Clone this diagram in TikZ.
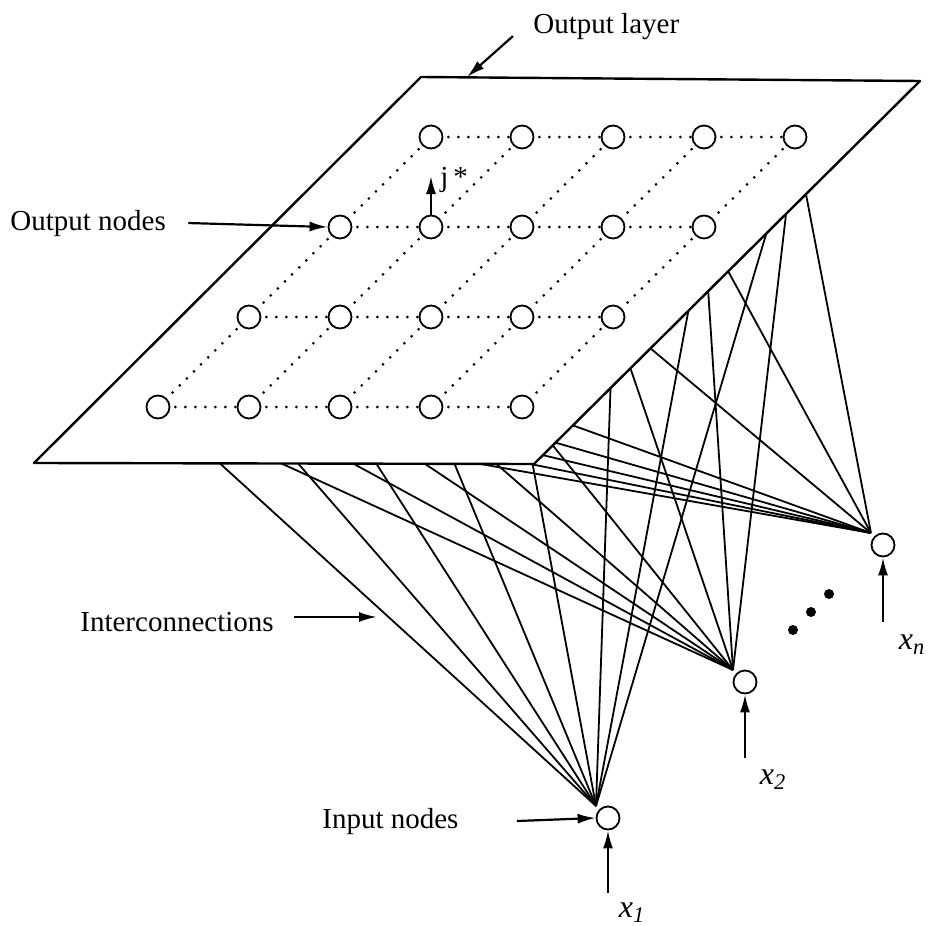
\documentclass[tikz,border=0pt]{standalone}
\usepackage{fontspec}
\setmainfont{Liberation Serif}
\usetikzlibrary{arrows.meta}
\usetikzlibrary{positioning}

\begin{document}
\begin{tikzpicture}
	[x=0.5pt,y=-0.5pt,
	unit/.style={circle,draw,line width=0.9pt,minimum size=11.5pt,inner sep=0pt,fill=white},
	dot/.style={circle,fill,minimum size=5pt,inner sep=0pt},
	link/.style={line width=0.9pt},
	lattice/.style={line width=1.5pt,line cap=round,dash pattern=on 0pt off 5pt,dash phase=2.5pt},
	pointer/.style={line width=1.1pt,-{Latex[length=9pt,width=5pt]}},
	lbl/.style={font=\fontsize{14.5}{17}\selectfont,inner sep=0pt},
	var/.style={font=\fontsize{16}{18}\selectfont,inner sep=0pt}]
	\useasboundingbox (0,0) rectangle (928,926);
	\foreach \i in {0,...,4}
		\foreach \j in {0,...,3}
			\coordinate (c-\i-\j) at ({431+91*\i-91*\j},{137+90*\j});
	\node[unit] (in1) at (608,818) {};
	\node[unit] (in2) at (745,682) {};
	\node[unit] (inn) at (883,545) {};
	\foreach \k in {1,2,n}
		\coordinate (tip-\k) at ([shift={(-12,-12)}]in\k.center);
	\foreach \k in {1,2,n}
		{\foreach \i in {0,...,4}
			\draw[link] (tip-\k) -- (c-\i-3);
		\foreach \j in {0,...,2}
			\draw[link] (tip-\k) -- (c-4-\j);}
	\filldraw[fill=white,line width=1.2pt,line join=round]
		(421,77) coordinate (tl) -- (920,81) coordinate (tr) -- (534,464) coordinate (br) -- (34,463) coordinate (bl) -- cycle;
	\foreach \i in {0,...,4}
		\foreach \j in {0,...,3}
			\node[unit] (o-\i-\j) at (c-\i-\j) {};
	\foreach \i in {0,...,3}
		\foreach \j in {0,...,3}
			{\pgfmathtruncatemacro\n{\i+1}
			\draw[lattice] (o-\i-\j) -- (o-\n-\j);}
	\foreach \i in {0,...,4}
		\foreach \j in {0,...,2}
			{\pgfmathtruncatemacro\m{\j+1}
			\draw[lattice] (o-\i-\j) -- (o-\i-\m);}
	\node[lbl,anchor=base west] (layerlbl) at (533,33) {Output layer};
	\coordinate (layerpt) at (467,77);
	\draw[pointer] (layerlbl.west) ++(-20,10) -- (layerpt);
	\coordinate (jtip) at (431,176);
	\draw[pointer] (o-1-1.north) -- (jtip);
	\node[lbl,anchor=base west] (jlbl) at (440,186) {j\kern2.5pt*};
	\node[lbl,anchor=base west] (outlbl) at (10,230) {Output nodes};
	\draw[pointer] (outlbl.east) ++(22,0) -- (o-0-1.west);
	\node[lbl,anchor=base west] (linklbl) at (80,631) {Interconnections};
	\coordinate (linkpt) at (377,617);
	\draw[pointer] (linkpt -| linklbl.east) ++(20,0) -- (linkpt);
	\node[lbl,anchor=base west] (inlbl) at (322,828) {Input nodes};
	\draw[pointer] (inlbl.east) ++(58,0) -- (in1.west);
	\node[var] (x1lbl) at (632,913) {\textit{x}\textsubscript{\textit{1}}};
	\node[var] (x2lbl) at (773,780) {\textit{x}\textsubscript{\textit{2}}};
	\node[var] (xnlbl) at (912,645) {\textit{x}\textsubscript{\textit{n}}};
	\coordinate (feed-1) at (608,893);
	\coordinate (feed-2) at (745,758);
	\coordinate (feed-n) at (883,622);
	\foreach \k in {1,2,n}
		\draw[pointer] (feed-\k) -- (in\k.south);
	\node[dot] (dot1) at (793,630) {};
	\node[dot] (dot2) at (811,612) {};
	\node[dot] (dot3) at (829,594) {};
\end{tikzpicture}
\end{document}
